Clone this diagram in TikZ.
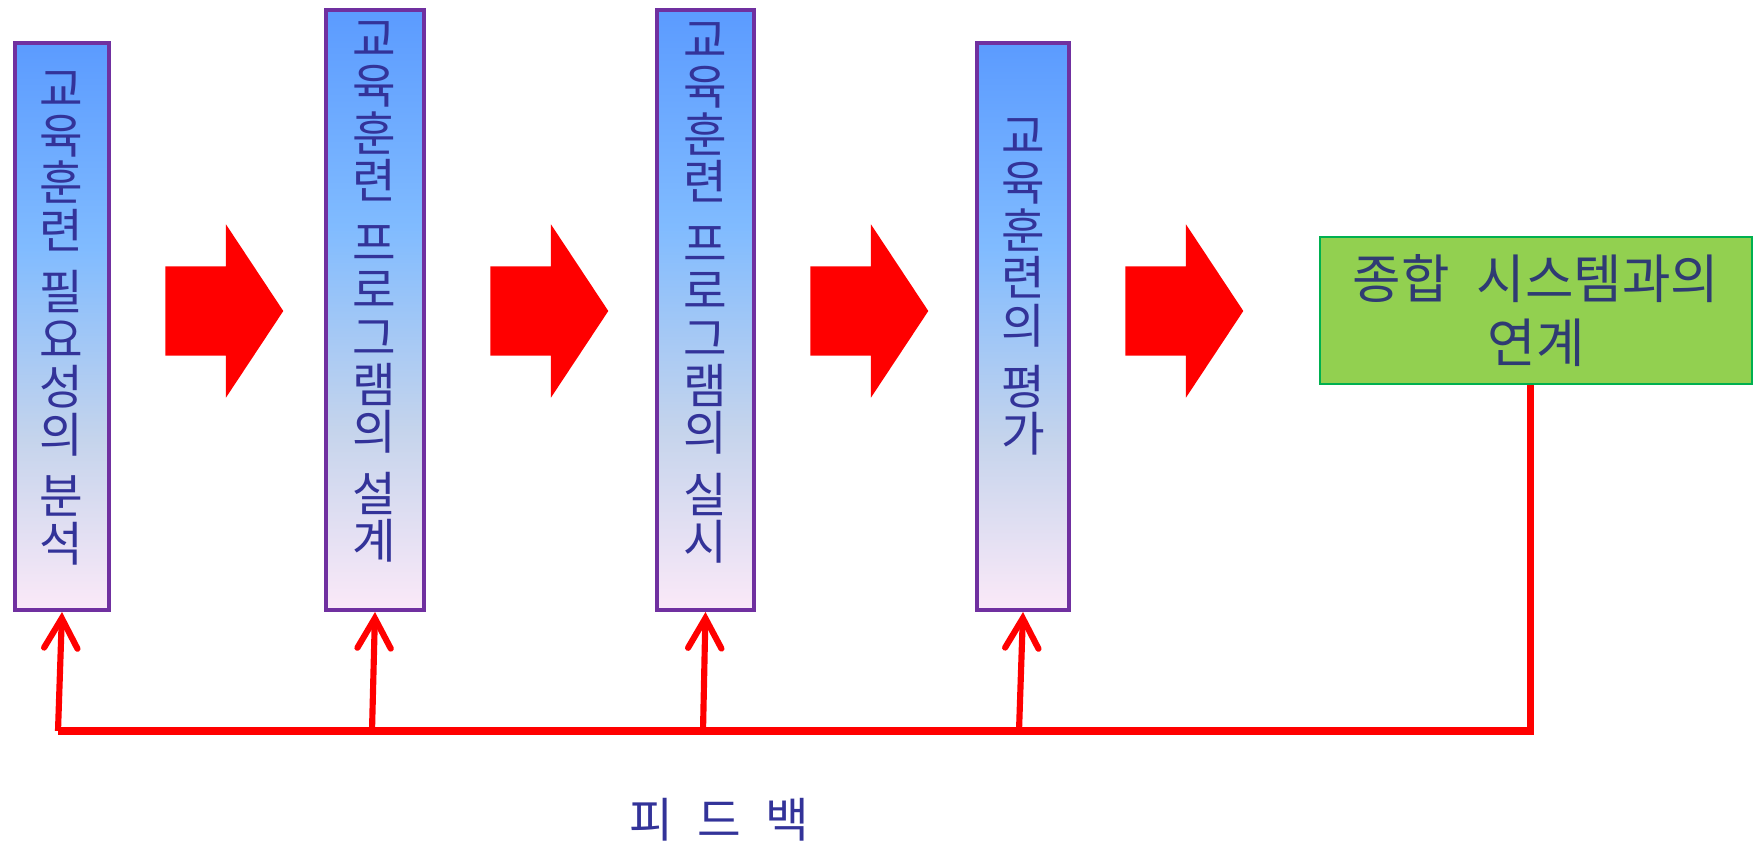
\documentclass[tikz,border=0pt]{standalone}
\usepackage{fontspec}
\usetikzlibrary{shapes.arrows,arrows.meta}
\newfontfamily\kfont[WordSpace=2.3]{Noto Sans CJK KR}
\definecolor{stagetop}{HTML}{5B9BFF}
\definecolor{stagemid}{HTML}{80BBFF}
\definecolor{stagelow}{HTML}{C5D4EC}
\definecolor{stagebot}{HTML}{FBE9F8}
\definecolor{stageedge}{HTML}{7030A0}
\definecolor{stagetext}{HTML}{333399}
\definecolor{linkfill}{HTML}{92D050}
\definecolor{linkedge}{HTML}{00B050}
\definecolor{linktext}{HTML}{2F3B73}
\pgfdeclareverticalshading{stageshade}{100bp}{color(0bp)=(stagebot); color(25bp)=(stagebot); color(40bp)=(stagelow); color(57bp)=(stagemid); color(75bp)=(stagetop); color(100bp)=(stagetop)}

\begin{document}
\begin{tikzpicture}[
	stage/.style={draw=stageedge, line width=1.15pt, shade, shading=stageshade, inner sep=0pt},
	stagelabel/.style={text=stagetext, font=\kfont\fontsize{13.5pt}{13.5pt}\selectfont, align=center, inner sep=0pt},
	flow/.style={single arrow, fill=red, inner xsep=0pt, inner ysep=0.44cm, minimum height=1.18cm, single arrow head extend=0.42cm, single arrow tip angle=113},
	feedback/.style={red, line width=1.75pt, -{Straight Barb[length=8.5pt,width=9.5pt,line cap=round]}},
	bus/.style={red, line width=2pt, line join=miter}
	]
	\useasboundingbox (0,0) rectangle (17.53,-8.41);
	% stages
	\node [stage, minimum width=0.94cm, minimum height=5.67cm] (b1) at (0.62,-3.265) {};
	\node [stage, minimum width=0.98cm, minimum height=6.00cm] (b2) at (3.75,-3.10) {};
	\node [stage, minimum width=0.97cm, minimum height=6.00cm] (b3) at (7.055,-3.10) {};
	\node [stage, minimum width=0.92cm, minimum height=5.67cm] (b4) at (10.23,-3.265) {};
	\node [stagelabel] (t1) at (0.61,-3.18) {교\\육\\훈\\련\\[4pt]필\\요\\성\\의\\[4pt]분\\석};
	\node [stagelabel] (t2) at (3.745,-2.92) {교\\육\\훈\\련\\[4pt]프\\로\\그\\램\\의\\[4pt]설\\계};
	\node [stagelabel] (t3) at (7.05,-2.93) {교\\육\\훈\\련\\[4pt]프\\로\\그\\램\\의\\[4pt]실\\시};
	\node [stagelabel] (t4) at (10.23,-2.87) {교\\육\\훈\\련\\의\\[4pt]평\\가};
	\node [draw=linkedge, fill=linkfill, line width=0.7pt, minimum width=4.32cm, minimum height=1.47cm,
		text=linktext, font=\kfont\fontsize{15pt}{18.2pt}\selectfont, align=center] (g) at (15.36,-3.105) {종합 시스템과의\\연계};
	% flow arrows
	\node [flow] (a1) at (2.095,-3.11) {};
	\node [flow] (a2) at (5.345,-3.11) {};
	\node [flow] (a3) at (8.545,-3.11) {};
	\node [flow] (a4) at (11.695,-3.11) {};
	% feedback
	\coordinate (f1) at (0.58,-7.31);
	\coordinate (f2) at (3.72,-7.31);
	\coordinate (f3) at (7.03,-7.31);
	\coordinate (f4) at (10.19,-7.31);
	\coordinate (fr) at (15.30,-7.31);
	\draw [bus] (f1) -- (fr) -- (fr |- g.south);
	\foreach \i in {1,...,4}
		\draw [feedback] (f\i) -- (b\i.south);
	\node [stagelabel] (fb) at (7.19,-8.20) {피 드 백};
\end{tikzpicture}
\end{document}
